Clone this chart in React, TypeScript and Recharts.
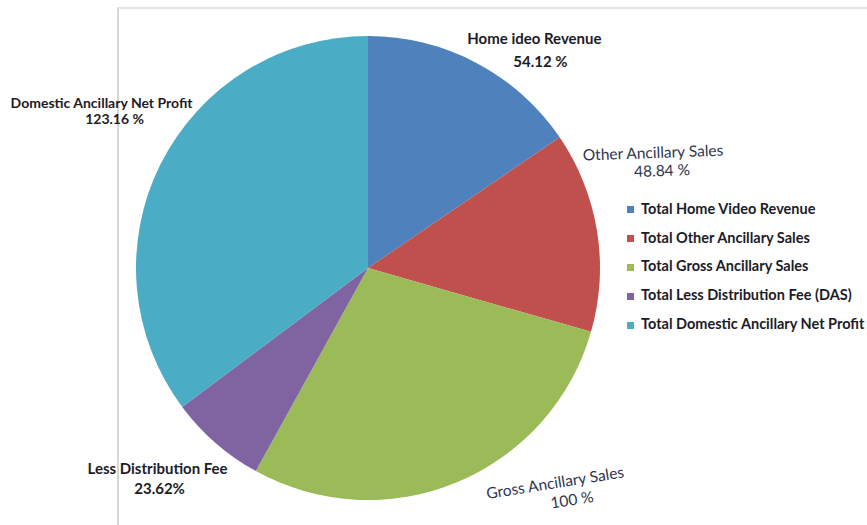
import { Cell, Legend, Pie, PieChart } from "recharts";

const LEGEND_NAMES = [
  "Total Home Video Revenue",
  "Total Other Ancillary Sales",
  "Total Gross Ancillary Sales",
  "Total Less Distribution Fee (DAS)",
  "Total Domestic Ancillary Net Profit",
];

const SLICE_LABELS = [
  "Home ideo Revenue",
  "Other Ancillary Sales",
  "Gross Ancillary Sales",
  "Less Distribution Fee",
  "Domestic Ancillary Net Profit",
];

const PERCENT_VALUES = [54.12, 48.84, 100, 23.62, 123.16];
const PERCENT_TEXT = ["54.12 %", "48.84 %", "100 %", "23.62%", "123.16 %"];

const COLORS = ["#4F81BD", "#C0504D", "#9BBB59", "#8064A2", "#4BACC6"];

// label placement relative to the outer edge of each slice, Excel-style manual nudges
const LABEL_LAYOUT = [
  { l1: [58, -25], l2: [64, -2], rotate: 0, light: false, size: 15 },
  { l1: [56, -79], l2: [65, -61], rotate: -2, light: true, size: 15.5 },
  { l1: [98, 0], l2: [115, 17], rotate: -9, light: true, size: 15.5 },
  { l1: [-58, 25], l2: [-56, 45], rotate: 0, light: false, size: 15 },
  { l1: [-59, -62], l2: [-46, -46], rotate: 0, light: false, size: 14 },
];

const chartData = LEGEND_NAMES.map((name, i) => ({
  name,
  value: PERCENT_VALUES[i],
}));

const RAD = Math.PI / 180;
const FONT = "Lato, 'Open Sans', sans-serif";

function renderLabel(props: any) {
  const { cx, cy, midAngle, outerRadius, index } = props;
  const ox = cx + outerRadius * Math.cos(-midAngle * RAD);
  const oy = cy + outerRadius * Math.sin(-midAngle * RAD);
  const layout = LABEL_LAYOUT[index];
  const x1 = ox + layout.l1[0];
  const y1 = oy + layout.l1[1];
  const x2 = ox + layout.l2[0];
  const y2 = oy + layout.l2[1];
  const style = {
    fontFamily: FONT,
    fontSize: layout.size,
    fontWeight: layout.light ? 400 : 700,
    fill: layout.light ? "#2e3550" : "#1c1c28",
  };
  return (
    <g key={`label-${index}`}>
      <text
        x={x1}
        y={y1}
        textAnchor="middle"
        dominantBaseline="central"
        transform={`rotate(${layout.rotate} ${x1} ${y1})`}
        style={style}
      >
        {SLICE_LABELS[index]}
      </text>
      <text
        x={x2}
        y={y2}
        textAnchor="middle"
        dominantBaseline="central"
        transform={`rotate(${layout.rotate} ${x2} ${y2})`}
        style={style}
      >
        {PERCENT_TEXT[index]}
      </text>
    </g>
  );
}

function LegendList({ payload }: any) {
  const items = [...(payload ?? [])].sort(
    (a: any, b: any) => LEGEND_NAMES.indexOf(a.value) - LEGEND_NAMES.indexOf(b.value)
  );
  return (
    <ul style={{ listStyle: "none", margin: 0, padding: 0 }}>
      {items.map((entry: any, i: number) => (
        <li
          key={`legend-${i}`}
          style={{
            height: 28.8,
            display: "flex",
            alignItems: "center",
            fontFamily: FONT,
            fontSize: 14.5,
            fontWeight: 700,
            color: "#1c1c28",
            whiteSpace: "nowrap",
          }}
        >
          <span
            style={{
              display: "inline-block",
              width: 7,
              height: 7,
              marginTop: 3,
              marginRight: 7,
              background: entry.color,
            }}
          />
          {entry.value}
        </li>
      ))}
    </ul>
  );
}

export default function App() {
  return (
    <div
      style={{
        position: "fixed",
        left: 0,
        top: 0,
        width: 867,
        height: 525,
        background: "#ffffff",
        overflow: "hidden",
      }}
    >
      <div
        style={{
          position: "absolute",
          left: 117,
          top: 7,
          right: 0,
          bottom: 0,
          borderLeft: "2px solid #d6d6d6",
          borderTop: "2px solid #e4e4e4",
        }}
      />
      <div style={{ position: "absolute", left: 0, top: 0 }}>
        <PieChart
          width={867}
          height={525}
          margin={{ top: 0, right: 0, bottom: 0, left: 0 }}
        >
          <Pie
            data={chartData}
            dataKey="value"
            nameKey="name"
            cx={368}
            cy={268}
            outerRadius={232}
            startAngle={90}
            endAngle={-270}
            stroke="none"
            labelLine={false}
            label={renderLabel}
            isAnimationActive={false}
          >
            {chartData.map((entry, i) => (
              <Cell key={entry.name} fill={COLORS[i]} />
            ))}
          </Pie>
          <Legend
            layout="vertical"
            content={<LegendList />}
            wrapperStyle={{ left: 627, top: 194, width: 240 }}
          />
        </PieChart>
      </div>
    </div>
  );
}
